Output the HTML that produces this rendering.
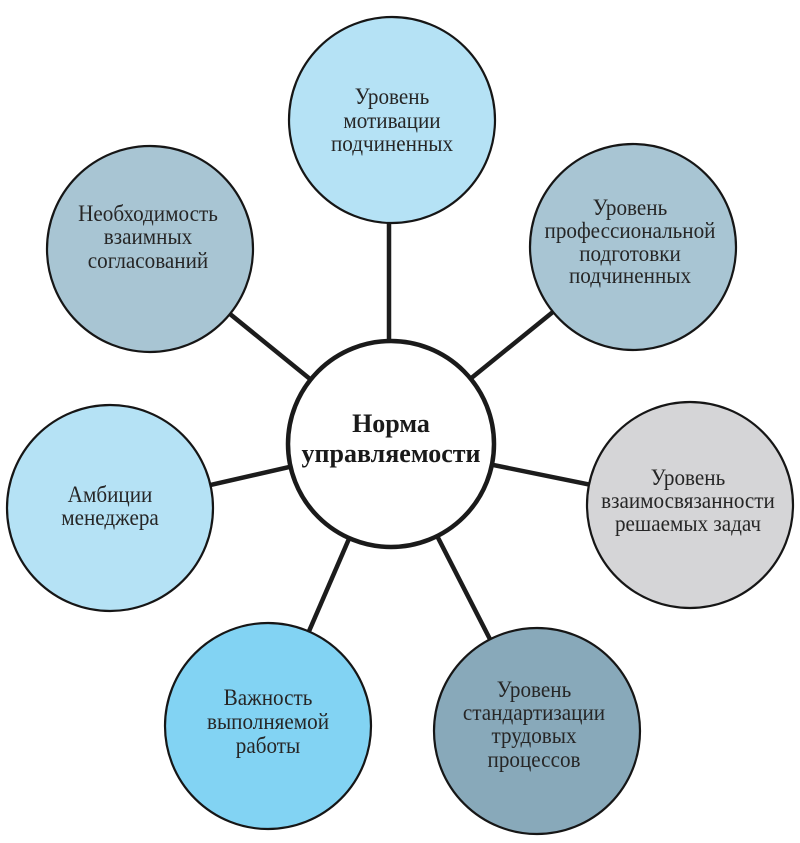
<!DOCTYPE html>
<html>
<head>
<meta charset="utf-8">
<style>
  html,body{margin:0;padding:0;background:#fff;}
  svg{display:block;}
  text{font-family:"Liberation Serif","DejaVu Serif",serif;fill:#262626;text-anchor:middle;}
  .t{font-size:23.5px;}
  .b{font-size:26px;font-weight:bold;fill:#1a1a1a;}
</style>
</head>
<body>
<svg width="800" height="843" viewBox="0 0 800 843" xmlns="http://www.w3.org/2000/svg">
  <rect width="800" height="843" fill="#ffffff"/>
  <!-- connectors -->
  <g stroke="#1c1c1c" stroke-width="4.5" stroke-linecap="butt">
    <line x1="389" y1="444" x2="389" y2="120"/>
    <line x1="390" y1="444" x2="150" y2="249"/>
    <line x1="390" y1="444" x2="633" y2="247"/>
    <line x1="390" y1="444" x2="110" y2="508"/>
    <line x1="390" y1="444" x2="690" y2="505"/>
    <line x1="390" y1="444" x2="268" y2="726"/>
    <line x1="390" y1="444" x2="537" y2="731"/>
  </g>
  <!-- satellites -->
  <g stroke="#161616" stroke-width="2.2">
    <circle cx="392" cy="120" r="103" fill="#b5e2f5"/>
    <circle cx="150" cy="249" r="103" fill="#a8c5d3"/>
    <circle cx="633" cy="247" r="103" fill="#a8c5d3"/>
    <circle cx="110" cy="508" r="103" fill="#b5e2f5"/>
    <circle cx="690" cy="505" r="103" fill="#d5d5d7"/>
    <circle cx="268" cy="726" r="103" fill="#82d3f3"/>
    <circle cx="537" cy="731" r="103" fill="#88a9ba"/>
  </g>
  <!-- center -->
  <circle cx="391" cy="444" r="103" fill="#ffffff" stroke="#1a1a1a" stroke-width="4.5"/>

  <!-- labels -->
  <text class="t" transform="translate(392 104) scale(0.9 1)">Уровень</text>
  <text class="t" transform="translate(392 128) scale(0.9 1)">мотивации</text>
  <text class="t" transform="translate(392 151) scale(0.9 1)">подчиненных</text>

  <text class="t" transform="translate(148 221) scale(0.9 1)">Необходимость</text>
  <text class="t" transform="translate(148 244) scale(0.9 1)">взаимных</text>
  <text class="t" transform="translate(148 268) scale(0.9 1)">согласований</text>

  <text class="t" transform="translate(630 215) scale(0.9 1)">Уровень</text>
  <text class="t" transform="translate(630 238) scale(0.9 1)">профессиональной</text>
  <text class="t" transform="translate(630 261) scale(0.9 1)">подготовки</text>
  <text class="t" transform="translate(630 283) scale(0.9 1)">подчиненных</text>

  <text class="t" transform="translate(110 502) scale(0.9 1)">Амбиции</text>
  <text class="t" transform="translate(110 525) scale(0.9 1)">менеджера</text>

  <text class="t" transform="translate(688 485) scale(0.9 1)">Уровень</text>
  <text class="t" transform="translate(688 508) scale(0.9 1)">взаимосвязанности</text>
  <text class="t" transform="translate(688 531) scale(0.9 1)">решаемых задач</text>

  <text class="t" transform="translate(268 705) scale(0.9 1)">Важность</text>
  <text class="t" transform="translate(268 729) scale(0.9 1)">выполняемой</text>
  <text class="t" transform="translate(268 753) scale(0.9 1)">работы</text>

  <text class="t" transform="translate(534 697) scale(0.9 1)">Уровень</text>
  <text class="t" transform="translate(534 720) scale(0.9 1)">стандартизации</text>
  <text class="t" transform="translate(534 743) scale(0.9 1)">трудовых</text>
  <text class="t" transform="translate(534 767) scale(0.9 1)">процессов</text>

  <text class="b" x="391" y="432">Норма</text>
  <text class="b" x="391" y="462">управляемости</text>
</svg>
</body>
</html>
